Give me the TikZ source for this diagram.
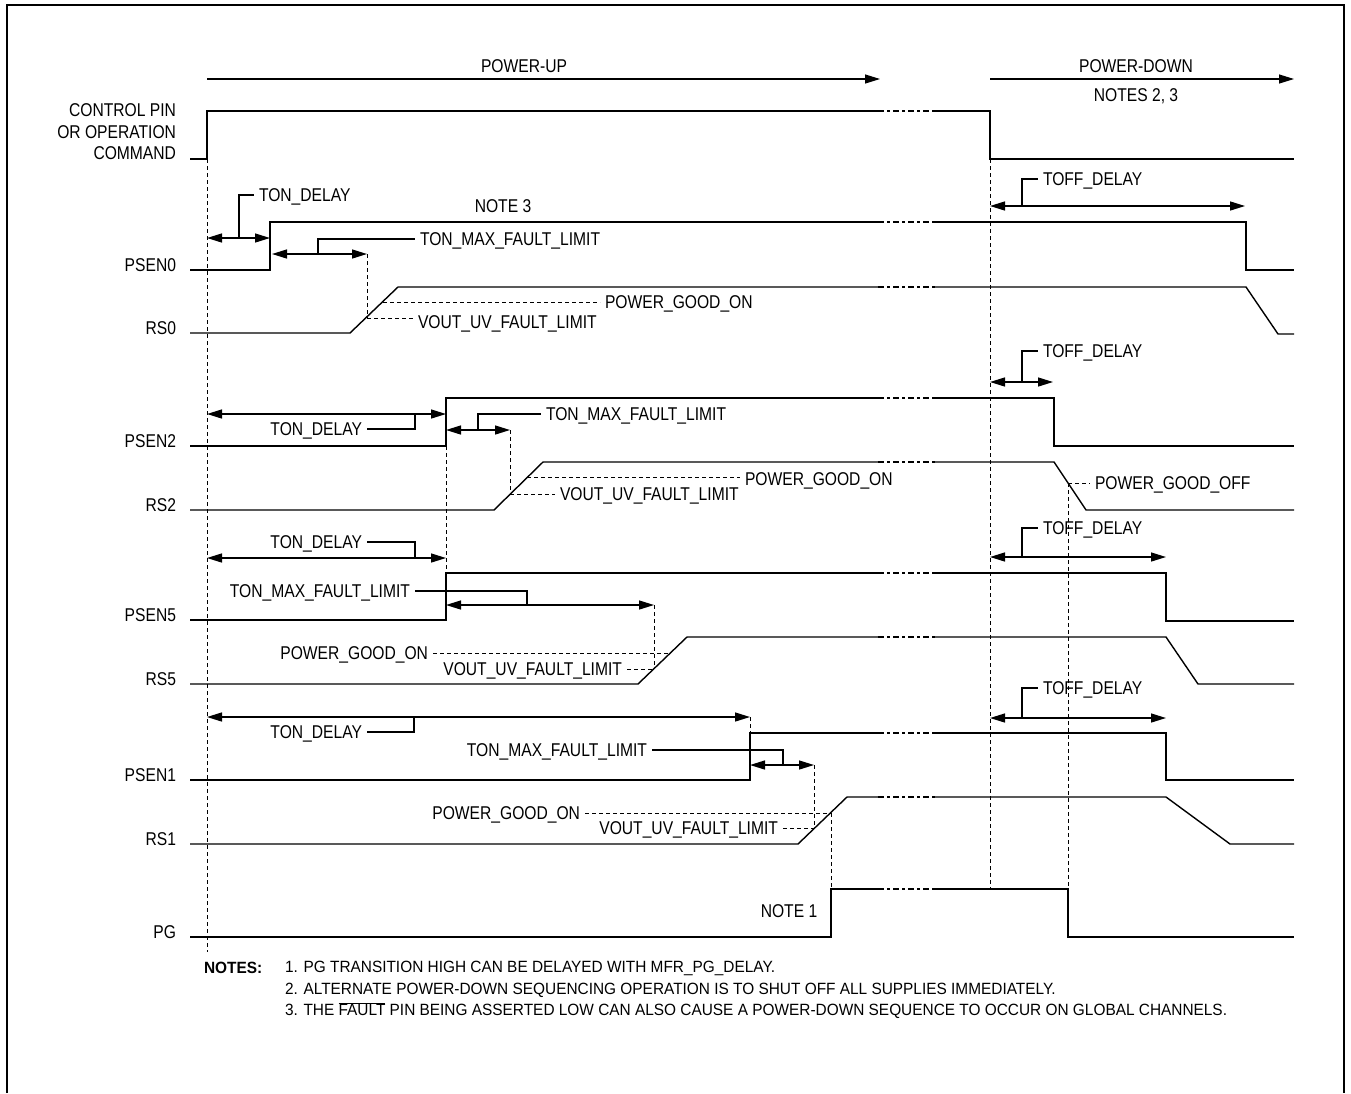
\documentclass[tikz,border=0pt]{standalone}
\usepackage{fontspec}
\setmainfont{Liberation Sans}[FakeStretch=0.845]
\newfontfamily\notesfont{Liberation Sans}[FakeStretch=0.945]
\usetikzlibrary{arrows.meta}

\begin{document}
\begin{tikzpicture}[x=1pt,y=-1pt,
  sig/.style={line width=1.4pt, line join=miter},
  brk/.style={line width=1.4pt, dash pattern=on 6pt off 3pt on 3pt off 3pt},
  guide/.style={line width=0.9pt, dash pattern=on 4pt off 3pt},
  lead/.style={line width=1.3pt},
  dim/.style={line width=1.4pt,
    {Triangle[length=15pt,width=9pt]}-{Triangle[length=15pt,width=9pt]}},
  phase/.style={line width=1.2pt, -{Triangle[length=15pt,width=9pt]}},
  lbl/.style={font=\fontsize{18.5}{21.5}\selectfont, inner sep=0pt,
    outer sep=5pt, text depth=0pt},
  sname/.style={lbl, outer sep=0pt, anchor=base east},
  notefont/.style={font=\notesfont\fontsize{16.3}{21.5}\selectfont,
    inner sep=0pt, outer sep=0pt}
]
\useasboundingbox (0,0) rectangle (1351,1093);

% frame, open at the bottom
\draw[line width=2pt] (7,1093) -- (7,5) -- (1344,5) -- (1344,1093);

% phase arrows
\node[lbl] (pu) at (524,66) {POWER-UP};
\node[lbl] (pd) at (1136,66) {POWER-DOWN};
\node[lbl] (n23) at (1136,95) {NOTES 2, 3};
\coordinate (pus) at (207,79);
\coordinate (pue) at (880,79);
\coordinate (pds) at (990,79);
\coordinate (pde) at (1294,79);
\draw[phase] (pus) -- (pue);
\draw[phase] (pds) -- (pde);

% signal names
\node[lbl, outer sep=0pt, anchor=north east, align=right] (sctl) at (176,104)
  {CONTROL PIN\\OR OPERATION\\COMMAND};
\node[sname] (spsen0) at (176,271) {PSEN0};
\node[sname] (srs0)   at (176,334) {RS0};
\node[sname] (spsen2) at (176,447) {PSEN2};
\node[sname] (srs2)   at (176,511) {RS2};
\node[sname] (spsen5) at (176,621) {PSEN5};
\node[sname] (srs5)   at (176,685) {RS5};
\node[sname] (spsen1) at (176,781) {PSEN1};
\node[sname] (srs1)   at (176,845) {RS1};
\node[sname] (spg)    at (176,938) {PG};

% vertical reference lines
\draw[guide] (207,159) -- (207,952);
\draw[guide] (990,159) -- (990,889);
\draw[guide] (1068,483) -- (1068,889);
\draw[guide] (446,446) -- (446,573);
\draw[guide] (750,717) -- (750,733);

% waveforms (break in the high level between 878 and 935)
\draw[sig] (190,159) -- (207,159) -- (207,111) -- (878,111);
\draw[brk] (878,111) -- (935,111);
\draw[sig] (935,111) -- (990,111) -- (990,159) -- (1294,159);

\draw[sig] (190,270) -- (270,270) -- (270,222) -- (878,222);
\draw[brk] (878,222) -- (935,222);
\draw[sig] (935,222) -- (1246,222) -- (1246,270) -- (1294,270);

\draw[sig] (190,333) -- (350,333) -- (398,287) -- (878,287);
\draw[brk] (878,287) -- (935,287);
\draw[sig] (935,287) -- (1246,287) -- (1278,334) -- (1294,334);

\draw[sig] (190,446) -- (446,446) -- (446,398) -- (878,398);
\draw[brk] (878,398) -- (935,398);
\draw[sig] (935,398) -- (1054,398) -- (1054,446) -- (1294,446);

\draw[sig] (190,510) -- (494,510) -- (543,462) -- (878,462);
\draw[brk] (878,462) -- (935,462);
\draw[sig] (935,462) -- (1054,462) -- (1086,510) -- (1294,510);

\draw[sig] (190,620) -- (446,620) -- (446,573) -- (878,573);
\draw[brk] (878,573) -- (935,573);
\draw[sig] (935,573) -- (1166,573) -- (1166,621) -- (1294,621);

\draw[sig] (190,684) -- (638,684) -- (687,637) -- (878,637);
\draw[brk] (878,637) -- (935,637);
\draw[sig] (935,637) -- (1166,637) -- (1198,684) -- (1294,684);

\draw[sig] (190,780) -- (750,780) -- (750,733) -- (878,733);
\draw[brk] (878,733) -- (935,733);
\draw[sig] (935,733) -- (1166,733) -- (1166,780) -- (1294,780);

\draw[sig] (190,844) -- (798,844) -- (847,797) -- (878,797);
\draw[brk] (878,797) -- (935,797);
\draw[sig] (935,797) -- (1166,797) -- (1230,844) -- (1294,844);

\draw[sig] (190,937) -- (831,937) -- (831,889) -- (878,889);
\draw[brk] (878,889) -- (935,889);
\draw[sig] (935,889) -- (1068,889) -- (1068,937) -- (1294,937);

\node[lbl] (note3) at (503,206) {NOTE 3};
\node[lbl] (note1) at (789,911) {NOTE 1};

% ---- PSEN0 / RS0 ----
\coordinate (d0a) at (207,238); \coordinate (d0b) at (270,238);
\draw[dim] (d0a) -- (d0b);
\node[lbl, anchor=west] (tond0) at (254,195) {TON\_DELAY};
\draw[lead] (239,238) |- (tond0.west);

\coordinate (m0a) at (272,254); \coordinate (m0b) at (367,254);
\draw[dim] (m0a) -- (m0b);
\node[lbl, anchor=west] (tmax0) at (415,239) {TON\_MAX\_FAULT\_LIMIT};
\draw[lead] (318,254) |- (tmax0.west);

\coordinate (uv0) at (367,318);
\coordinate (pg0) at (383,302);
\draw[guide] (m0b) -- (uv0);
\node[lbl, anchor=west] (vuv0) at (413,322) {VOUT\_UV\_FAULT\_LIMIT};
\draw[guide] (uv0) -- (uv0 -| vuv0.west);
\node[lbl, anchor=west] (pgon0) at (600,302) {POWER\_GOOD\_ON};
\draw[guide] (pg0) -- (pgon0.west);

\coordinate (f0a) at (990,206); \coordinate (f0b) at (1245,206);
\draw[dim] (f0a) -- (f0b);
\node[lbl, anchor=west] (toff0) at (1038,179) {TOFF\_DELAY};
\draw[lead] (1022,206) |- (toff0.west);

% ---- PSEN2 / RS2 ----
\coordinate (d2a) at (207,414); \coordinate (d2b) at (446,414);
\draw[dim] (d2a) -- (d2b);
\node[lbl, anchor=east] (tond2) at (367,429) {TON\_DELAY};
\draw[lead] (415,414) |- (tond2.east);

\coordinate (m2a) at (446,430); \coordinate (m2b) at (510,430);
\draw[dim] (m2a) -- (m2b);
\node[lbl, anchor=west] (tmax2) at (541,414) {TON\_MAX\_FAULT\_LIMIT};
\draw[lead] (478,430) |- (tmax2.west);

\coordinate (uv2) at (510,494);
\coordinate (pg2) at (527,477);
\draw[guide] (m2b) -- (uv2);
\node[lbl, anchor=west] (vuv2) at (555,494) {VOUT\_UV\_FAULT\_LIMIT};
\draw[guide] (uv2) -- (vuv2.west);
\node[lbl, anchor=west] (pgon2) at (740,479) {POWER\_GOOD\_ON};
\draw[guide] (pg2) -- (pg2 -| pgon2.west);

\coordinate (f2a) at (990,382); \coordinate (f2b) at (1053,382);
\draw[dim] (f2a) -- (f2b);
\node[lbl, anchor=west] (toff2) at (1038,351) {TOFF\_DELAY};
\draw[lead] (1022,382) |- (toff2.west);

\coordinate (off2) at (1068,483);
\node[lbl, anchor=west] (pgoff) at (1090,483) {POWER\_GOOD\_OFF};
\draw[guide] (off2) -- (pgoff.west);

% ---- PSEN5 / RS5 ----
\coordinate (d5a) at (207,558); \coordinate (d5b) at (446,558);
\draw[dim] (d5a) -- (d5b);
\node[lbl, anchor=east] (tond5) at (367,542) {TON\_DELAY};
\draw[lead] (415,558) |- (tond5.east);

\coordinate (m5a) at (446,605); \coordinate (m5b) at (654,605);
\draw[dim] (m5a) -- (m5b);
\node[lbl, anchor=east] (tmax5) at (415,591) {TON\_MAX\_FAULT\_LIMIT};
\draw[lead] (tmax5.east) -| (527,605);

\coordinate (uv5) at (654,669);
\coordinate (pg5) at (670,653);
\draw[guide] (m5b) -- (uv5);
\node[lbl, anchor=east] (vuv5) at (627,669) {VOUT\_UV\_FAULT\_LIMIT};
\draw[guide] (vuv5.east) -- (uv5);
\node[lbl, anchor=east] (pgon5) at (433,653) {POWER\_GOOD\_ON};
\draw[guide] (pgon5.east) -- (pg5);

\coordinate (f5a) at (990,557); \coordinate (f5b) at (1166,557);
\draw[dim] (f5a) -- (f5b);
\node[lbl, anchor=west] (toff5) at (1038,528) {TOFF\_DELAY};
\draw[lead] (1022,557) |- (toff5.west);

% ---- PSEN1 / RS1 / PG ----
\coordinate (d1a) at (207,717); \coordinate (d1b) at (750,717);
\draw[dim] (d1a) -- (d1b);
\node[lbl, anchor=east] (tond1) at (367,732) {TON\_DELAY};
\draw[lead] (414,717) |- (tond1.east);

\coordinate (m1a) at (750,765); \coordinate (m1b) at (814,765);
\draw[dim] (m1a) -- (m1b);
\node[lbl, anchor=east] (tmax1) at (652,750) {TON\_MAX\_FAULT\_LIMIT};
\draw[lead] (tmax1.east) -| (783,765);

\coordinate (uv1) at (814,828);
\coordinate (pg1) at (831,813);
\draw[guide] (m1b) -- (uv1);
\node[lbl, anchor=east] (vuv1) at (783,828) {VOUT\_UV\_FAULT\_LIMIT};
\draw[guide] (vuv1.east) -- (uv1);
\node[lbl, anchor=east] (pgon1) at (585,813) {POWER\_GOOD\_ON};
\draw[guide] (pgon1.east) -- (pg1);
\draw[guide] (pg1) -- (831,889);

\coordinate (f1a) at (990,718); \coordinate (f1b) at (1166,718);
\draw[dim] (f1a) -- (f1b);
\node[lbl, anchor=west] (toff1) at (1038,688) {TOFF\_DELAY};
\draw[lead] (1022,718) |- (toff1.west);

% ---- notes ----
\node[notefont, font=\notesfont\bfseries\fontsize{16.3}{21.5}\selectfont,
  anchor=base west] (nh) at (204,973) {NOTES:};
\node[notefont, anchor=north west, align=left] (nbody) at (285,961.3)
  {1. PG TRANSITION HIGH CAN BE DELAYED WITH MFR\_PG\_DELAY.\\
   2. ALTERNATE POWER-DOWN SEQUENCING OPERATION IS TO SHUT OFF ALL SUPPLIES IMMEDIATELY.\\
   3. THE $\overline{\mbox{FAULT}}$ PIN BEING ASSERTED LOW CAN ALSO CAUSE A POWER-DOWN SEQUENCE TO OCCUR ON GLOBAL CHANNELS.};
\end{tikzpicture}
\end{document}
